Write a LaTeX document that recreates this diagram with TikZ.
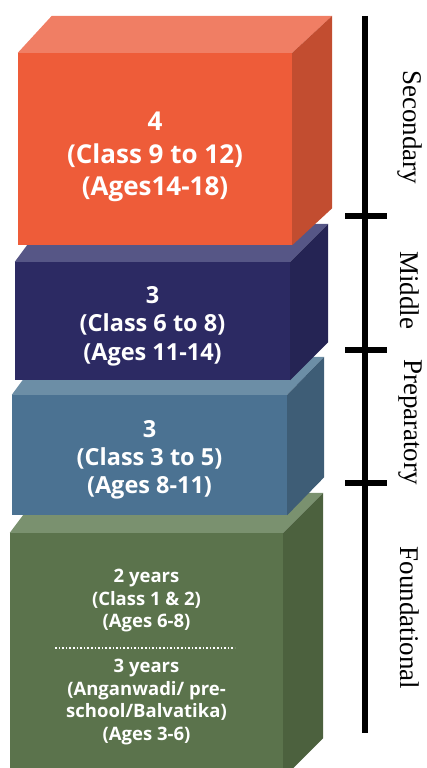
\documentclass[tikz,border=0pt]{standalone}
\usepackage{fontspec}
\setmainfont{Liberation Serif}
\setsansfont{Open Sans}
\usetikzlibrary{calc, positioning}
\definecolor{seccolor}{RGB}{238, 92, 57}
\definecolor{sectop}{RGB}{240, 126, 100}
\definecolor{secside}{RGB}{194, 77, 48}
\definecolor{midcolor}{RGB}{44, 42, 99}
\definecolor{midtop}{RGB}{86, 86, 134}
\definecolor{midside}{RGB}{37, 36, 84}
\definecolor{prepcolor}{RGB}{75, 114, 146}
\definecolor{preptop}{RGB}{108, 142, 166}
\definecolor{prepside}{RGB}{62, 93, 118}
\definecolor{fndcolor}{RGB}{91, 115, 76}
\definecolor{fndtop}{RGB}{122, 145, 111}
\definecolor{fndside}{RGB}{76, 97, 62}
\tikzstyle{stage_box} = [rectangle, inner sep=0pt]
\tikzstyle{stage_text} = [text=white, align=center, inner sep=0pt, font=\sffamily\bfseries\fontsize{18.5}{22.5}\selectfont]
\tikzstyle{stage_label} = [rotate=-90, font=\fontsize{27}{30}\selectfont, inner sep=0pt]
\tikzstyle{timeline} = [line width=6pt, black]

\begin{document}
\begin{tikzpicture}[x=1pt, y=-1pt]
\clip (0,0) rectangle (426,768);

% Foundational block
\node[stage_box, fill=fndcolor, minimum width=273pt, minimum height=245pt] (fnd) at (146.5,655.5) {};
\fill[fndtop] (fnd.north west) -- ++(30,-40) -- ($(fnd.north east)+(40,-40)$) -- (fnd.north east) -- cycle;
\fill[fndside] (fnd.north east) -- ++(40,-40) -- ($(fnd.south east)+(40,-40)$) -- (fnd.south east) -- cycle;
\node[stage_text] (fnd_upper) at (146.5,601) {2 years\\(Class 1 \& 2)\\(Ages 6-8)};
\node[stage_text] (fnd_lower) at (146.5,702) {3 years\\(Anganwadi/ pre-\\school/Balvatika)\\(Ages 3-6)};
\draw[white, line width=1.6pt, dotted] (55,648) -- (235,648);

% Preparatory block
\node[stage_box, fill=prepcolor, minimum width=275pt, minimum height=120pt] (prep) at (149.5,455) {};
\fill[preptop] (prep.north west) -- ++(28,-38) -- ($(prep.north east)+(37,-38)$) -- (prep.north east) -- cycle;
\fill[prepside] (prep.north east) -- ++(37,-38) -- ($(prep.south east)+(37,-38)$) -- (prep.south east) -- cycle;
\node[stage_text, font=\sffamily\bfseries\fontsize{23.5}{28}\selectfont] (prep_text) at (149.5,460) {3\\(Class 3 to 5)\\(Ages 8-11)};

% Middle block
\node[stage_box, fill=midcolor, minimum width=275pt, minimum height=118pt] (mid) at (152.5,321) {};
\fill[midtop] (mid.north west) -- ++(28,-38) -- ($(mid.north east)+(38,-38)$) -- (mid.north east) -- cycle;
\fill[midside] (mid.north east) -- ++(38,-38) -- ($(mid.south east)+(38,-38)$) -- (mid.south east) -- cycle;
\node[stage_text, font=\sffamily\bfseries\fontsize{23.5}{28.5}\selectfont] (mid_text) at (152.5,326) {3\\(Class 6 to 8)\\(Ages 11-14)};

% Secondary block
\node[stage_box, fill=seccolor, minimum width=274pt, minimum height=192pt] (sec) at (155,149) {};
\fill[sectop] (sec.north west) -- ++(34,-37) -- ($(sec.north east)+(40,-37)$) -- (sec.north east) -- cycle;
\fill[secside] (sec.north east) -- ++(40,-37) -- ($(sec.south east)+(40,-37)$) -- (sec.south east) -- cycle;
\node[stage_text, font=\sffamily\bfseries\fontsize{26}{32.5}\selectfont] (sec_text) at (155,157) {4\\(Class 9 to 12)\\(Ages14-18)};

% Stage axis
\draw[timeline] (365,16) -- (365,733);
\draw[timeline] (345,216) -- (387,216);
\draw[timeline] (345,350) -- (387,350);
\draw[timeline] (345,483) -- (387,483);

% Stage names
\node[stage_label] (secl) at (410,127) {Secondary};
\node[stage_label] (midl) at (410,290) {Middle};
\node[stage_label] (prepl) at (410,422) {Preparatory};
\node[stage_label] (fndl) at (410,618) {Foundational};

\end{tikzpicture}
\end{document}
